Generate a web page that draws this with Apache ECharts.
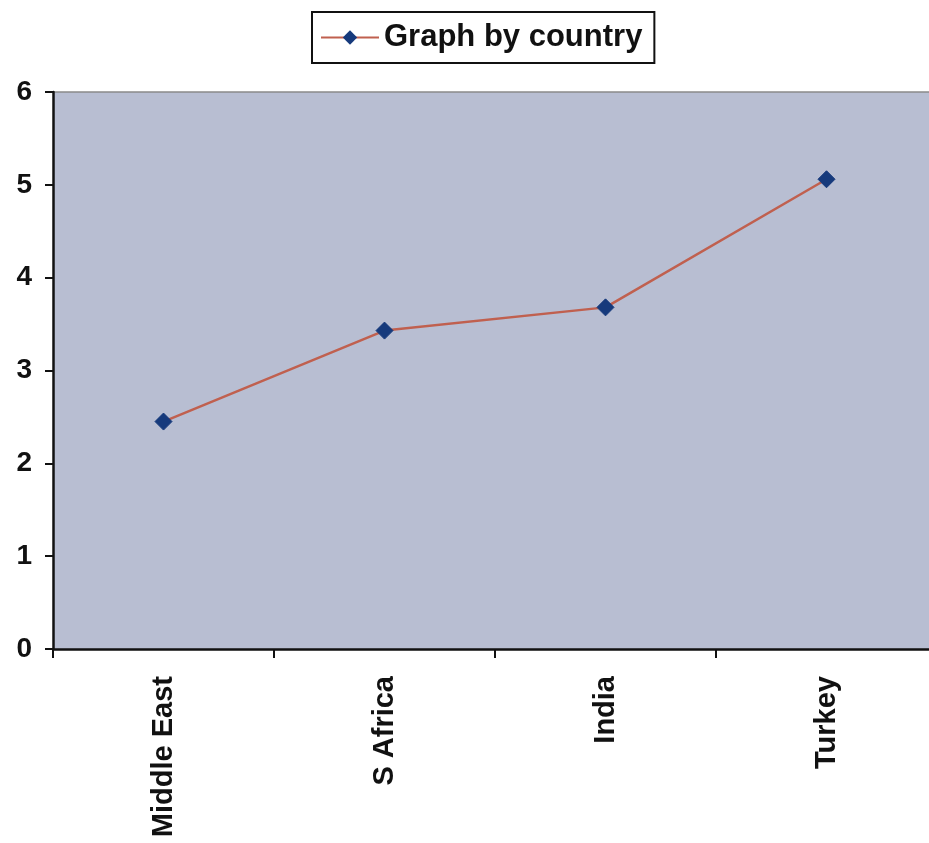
<!DOCTYPE html>
<html><head><meta charset="utf-8">
<script src="https://cdn.jsdelivr.net/npm/echarts@6/dist/echarts.min.js"></script>
<style>html,body{margin:0;padding:0;background:#fff;overflow:hidden;width:929px;height:843px}#c{width:960px;height:843px}</style>
</head><body><div id="c"></div>
<script>
const categories = ['Middle East', 'S Africa', 'India', 'Turkey'];
const seriesName = 'Graph by country';
const values = [2.45, 3.43, 3.68, 5.06];
const yTicks = [0, 1, 2, 3, 4, 5, 6];

const chart = echarts.init(document.getElementById('c'));
chart.setOption({
  animation: false,
  backgroundColor: '#ffffff',
  legend: {
    data: [seriesName],
    top: 12,
    left: 312,
    padding: [10, 12, 10, 8],
    borderColor: '#111',
    borderWidth: 2,
    itemWidth: 58,
    itemHeight: 18,
    itemGap: 6,
    textStyle: { fontFamily: 'Liberation Sans, Arial', fontWeight: 'bold', fontSize: 31, color: '#111' }
  },
  grid: { left: 53, top: 92, width: 884, height: 557, show: true, backgroundColor: '#b8bed2', borderWidth: 0 },
  xAxis: {
    type: 'category',
    data: categories,
    boundaryGap: true,
    axisLine: { lineStyle: { color: '#111', width: 2.5 } },
    axisTick: { show: true, inside: false, length: 9, lineStyle: { color: '#111', width: 2 } },
    axisLabel: { rotate: 90, margin: 27, fontFamily: 'Liberation Sans, Arial', fontWeight: 'bold', fontSize: 29, color: '#111' },
    splitLine: { show: false }
  },
  yAxis: {
    type: 'value',
    min: yTicks[0],
    max: yTicks[yTicks.length - 1],
    interval: 1,
    axisLine: { show: true, lineStyle: { color: '#111', width: 2.5 } },
    axisTick: { show: true, length: 8, lineStyle: { color: '#111', width: 2 } },
    axisLabel: { margin: 21, fontFamily: 'Liberation Sans, Arial', fontWeight: 'bold', fontSize: 28, color: '#111' },
    splitLine: { show: false }
  },
  series: [{
    name: seriesName,
    type: 'line',
    data: values,
    symbol: 'diamond',
    symbolSize: 17,
    lineStyle: { color: '#c0604f', width: 2.5 },
    itemStyle: { color: '#163a7c', borderColor: '#163a7c' }
  }],
  graphic: [{
    type: 'line',
    shape: { x1: 53, y1: 92, x2: 960, y2: 92 },
    style: { stroke: '#8a8a8a', lineWidth: 1.5 }
  }]
});
</script></body></html>
